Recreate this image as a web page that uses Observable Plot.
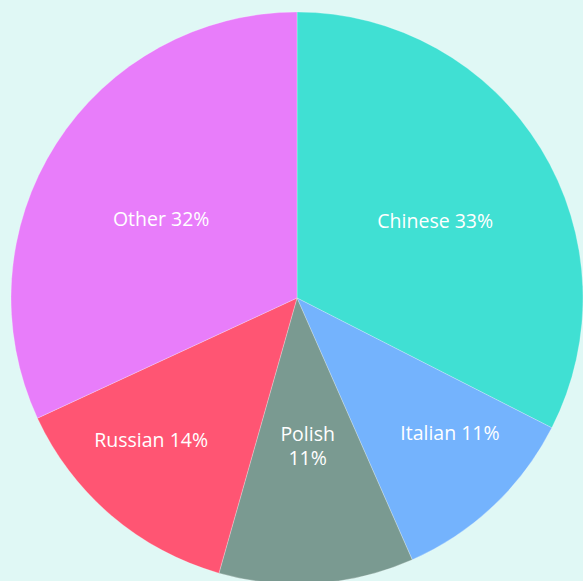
<!DOCTYPE html>
<html>
<head>
<meta charset="utf-8">
<script src="https://cdn.jsdelivr.net/npm/d3@7"></script>
<script src="https://cdn.jsdelivr.net/npm/@observablehq/plot@0.6"></script>
<style>
  html, body { margin: 0; padding: 0; background: #e0f8f5; overflow: hidden; }
  svg { display: block; }
</style>
</head>
<body>
<div id="chart"></div>
<script>
const categories = ["Chinese", "Italian", "Polish", "Russian", "Other"];
const shares = [32.5, 10.9, 11.0, 13.7, 31.9];
const labelTexts = ["Chinese 33%", "Italian 11%", "Polish\n11%", "Russian 14%", "Other 32%"];
const colors = ["#40e0d3", "#74b3fd", "#7a9a91", "#ff5573", "#e87dfa"];

const W = 583, H = 581;
const R = 286, CX = 297, CY = 298;

const pie = d3.pie().sort(null).value(d => d.share).startAngle(0).endAngle(2 * Math.PI);
const data = categories.map((c, i) => ({ name: c, share: shares[i], label: labelTexts[i] }));
const arcs = pie(data);
const total = d3.sum(shares);

// label anchor: along the slice's mid angle, nudged toward the horizontal
const labels = arcs.map(a => {
  const mid = (a.startAngle + a.endAngle) / 2;
  const frac = a.data.share / total;
  const multi = a.data.label.includes("\n");
  const rf = frac > 0.25 ? 0.553 : (multi ? 0.515 : 0.709);
  const k = frac > 0.25 ? 0.065 : (multi ? 0 : 0.115);
  const horiz = mid < Math.PI ? Math.PI / 2 : 3 * Math.PI / 2;
  const ang = mid + k * (horiz - mid);
  return { label: a.data.label, x: Math.sin(ang) * rf, y: Math.cos(ang) * rf };
});

const colorOf = d3.scaleOrdinal(categories, colors);

const chart = Plot.plot({
  width: W,
  height: H,
  margin: 0,
  style: { background: "#e0f8f5", fontFamily: "'Open Sans', sans-serif" },
  x: { domain: [-CX / R, (W - CX) / R], axis: null },
  y: { domain: [-(H - CY) / R, CY / R], axis: null },
  marks: [
    (index, scales) => {
      const x = scales.x, y = scales.y;
      const cx = x(0), cy = y(0), r = x(1) - x(0);
      const arcGen = d3.arc().innerRadius(0).outerRadius(r);
      const g = d3.create("svg:g").attr("transform", `translate(${cx},${cy})`);
      g.selectAll("path").data(arcs).join("path")
        .attr("d", arcGen)
        .attr("fill", d => colorOf(d.data.name))
        .attr("stroke", "#ffffff")
        .attr("stroke-opacity", 0.5)
        .attr("stroke-width", 0.5);
      return g.node();
    },
    Plot.text(labels, {
      x: "x", y: "y", text: "label",
      fill: "white", fontSize: 19.5, lineHeight: 1.23
    })
  ]
});
document.getElementById("chart").append(chart);
</script>
</body>
</html>
